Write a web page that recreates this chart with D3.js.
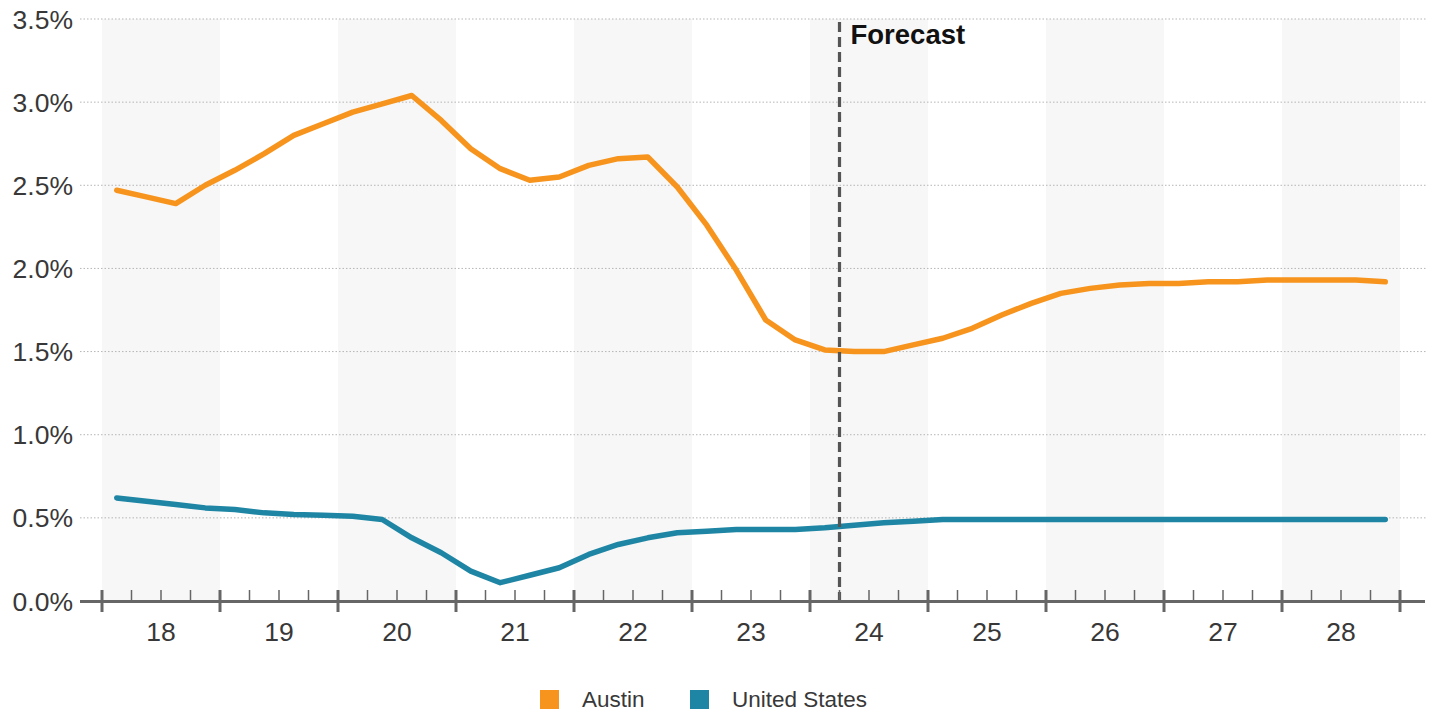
<!DOCTYPE html>
<html>
<head>
<meta charset="utf-8">
<script src="https://cdn.jsdelivr.net/npm/d3@7"></script>
<style>
  html, body { margin: 0; padding: 0; background: #fff; }
  svg { display: block; font-family: "Liberation Sans", Arial, sans-serif; }
</style>
</head>
<body>
<svg id="chart" width="1435" height="713"></svg>
<script>
// Quarterly growth rates, 2018 Q1 through 2028 Q4
const startYear = 2018;
const endYear = 2029;
const yearLabels = ["18", "19", "20", "21", "22", "23", "24", "25", "26", "27", "28"];
const yTicks = [0, 0.5, 1.0, 1.5, 2.0, 2.5, 3.0, 3.5];
const forecastStart = 2024.25;

const austin = [
  2.47, 2.43, 2.39, 2.50,
  2.59, 2.69, 2.80, 2.87,
  2.94, 2.99, 3.04, 2.89,
  2.72, 2.60, 2.53, 2.55,
  2.62, 2.66, 2.67, 2.49,
  2.26, 1.99, 1.69, 1.57,
  1.51, 1.50, 1.50, 1.54,
  1.58, 1.64, 1.72, 1.79,
  1.85, 1.88, 1.90, 1.91,
  1.91, 1.92, 1.92, 1.93,
  1.93, 1.93, 1.93, 1.92
];
const unitedStates = [
  0.62, 0.60, 0.58, 0.56,
  0.55, 0.53, 0.52, 0.515,
  0.51, 0.49, 0.38, 0.29,
  0.18, 0.11, 0.155, 0.20,
  0.28, 0.34, 0.38, 0.41,
  0.42, 0.43, 0.43, 0.43,
  0.44, 0.455, 0.47, 0.48,
  0.49, 0.49, 0.49, 0.49,
  0.49, 0.49, 0.49, 0.49,
  0.49, 0.49, 0.49, 0.49,
  0.49, 0.49, 0.49, 0.49
];
const seriesNames = ["Austin", "United States"];
const seriesColors = ["#f7941d", "#1e86a4"];

const svg = d3.select("#chart");
const plotTop = 19, plotBottom = 601, gridLeft = 80, gridRight = 1426;

const x = d3.scaleLinear().domain([startYear, endYear]).range([102, 1400]);
const y = d3.scaleLinear().domain([0, 3.5]).range([plotBottom, plotTop]);

// alternating year bands
const years = d3.range(startYear, endYear);
svg.append("g").selectAll("rect")
  .data(years.filter((d, i) => i % 2 === 0))
  .join("rect")
  .attr("x", d => x(d))
  .attr("width", d => x(d + 1) - x(d))
  .attr("y", plotTop)
  .attr("height", plotBottom - plotTop)
  .attr("fill", "#f7f7f7");

// horizontal dotted gridlines
svg.append("g").selectAll("line")
  .data(yTicks.filter(d => d > 0))
  .join("line")
  .attr("x1", gridLeft).attr("x2", gridRight)
  .attr("y1", d => y(d)).attr("y2", d => y(d))
  .attr("stroke", "#b5b5b5")
  .attr("stroke-width", 1)
  .attr("stroke-dasharray", "1.5,2");

// y labels
svg.append("g").selectAll("text")
  .data(yTicks)
  .join("text")
  .attr("x", 73)
  .attr("y", d => y(d))
  .attr("dy", "0.36em")
  .attr("text-anchor", "end")
  .attr("font-size", 26.5)
  .attr("fill", "#383838")
  .text(d => d3.format(".1f")(d) + "%");

// series lines
const quarterX = i => x(startYear + i / 4 + 0.125);
const line = d3.line().x((d, i) => quarterX(i)).y(d => y(d));
[austin, unitedStates].forEach((vals, k) => {
  svg.append("path")
    .datum(vals)
    .attr("d", line)
    .attr("fill", "none")
    .attr("stroke", seriesColors[k])
    .attr("stroke-width", 5.5)
    .attr("stroke-linejoin", "round")
    .attr("stroke-linecap", "round");
});

// forecast divider
svg.append("line")
  .attr("x1", x(forecastStart)).attr("x2", x(forecastStart))
  .attr("y1", 22).attr("y2", plotBottom)
  .attr("stroke", "#555")
  .attr("stroke-width", 3.2)
  .attr("stroke-dasharray", "10,5");
svg.append("text")
  .attr("x", x(forecastStart) + 11)
  .attr("y", 44)
  .attr("font-size", 27.5)
  .attr("font-weight", "bold")
  .attr("fill", "#111")
  .text("Forecast");

// x axis: baseline, year ticks, quarter ticks
const axis = svg.append("g");
axis.append("line")
  .attr("x1", gridLeft).attr("x2", 1425)
  .attr("y1", plotBottom + 0.5).attr("y2", plotBottom + 0.5)
  .attr("stroke", "#666").attr("stroke-width", 3);
axis.selectAll("line.major")
  .data(d3.range(startYear, endYear + 1))
  .join("line").attr("class", "major")
  .attr("x1", d => x(d)).attr("x2", d => x(d))
  .attr("y1", 590).attr("y2", 612)
  .attr("stroke", "#666").attr("stroke-width", 3);
const minors = [];
years.forEach(yr => [0.25, 0.5, 0.75].forEach(q => minors.push(yr + q)));
axis.selectAll("line.minor")
  .data(minors)
  .join("line").attr("class", "minor")
  .attr("x1", d => x(d)).attr("x2", d => x(d))
  .attr("y1", 590).attr("y2", plotBottom)
  .attr("stroke", "#666").attr("stroke-width", 1.5);
axis.selectAll("text")
  .data(yearLabels)
  .join("text")
  .attr("x", (d, i) => x(startYear + i + 0.5))
  .attr("y", 641)
  .attr("text-anchor", "middle")
  .attr("font-size", 26.5)
  .attr("fill", "#383838")
  .text(d => d);

// legend
const legendX = [540, 690];
const legend = svg.append("g");
seriesNames.forEach((name, k) => {
  legend.append("rect")
    .attr("x", legendX[k]).attr("y", 690)
    .attr("width", 19).attr("height", 19)
    .attr("fill", seriesColors[k]);
  legend.append("text")
    .attr("x", legendX[k] + 42).attr("y", 707)
    .attr("font-size", 22.5)
    .attr("fill", "#383838")
    .text(name);
});
</script>
</body>
</html>
